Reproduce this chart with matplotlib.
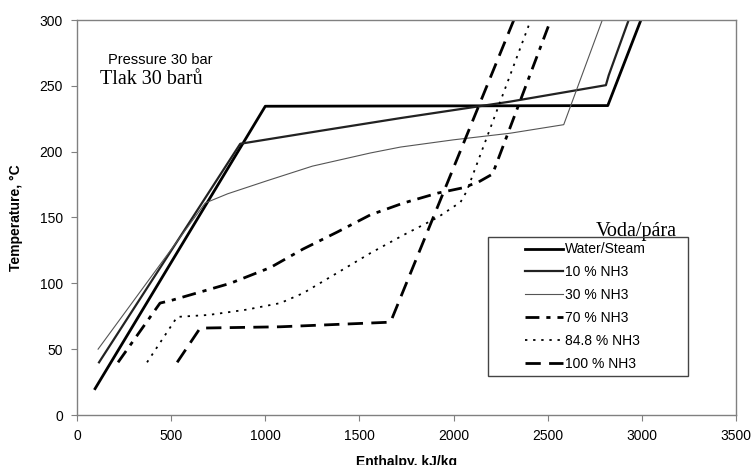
import numpy as np
import matplotlib
matplotlib.use("Agg")
import matplotlib.pyplot as plt
from matplotlib.patches import Rectangle

plt.rcParams['font.family'] = ['Liberation Sans', 'DejaVu Sans']

# enthalpy (kJ/kg) vs temperature (degC)
water_h = [96, 1000, 2819, 2995]
water_t = [20, 234.5, 235, 300]

nh3_10_h = [117, 867, 1300, 1718, 2300, 2809, 2824, 2930]
nh3_10_t = [40, 206, 216, 225.5, 238, 250.5, 258, 300]

nh3_30_h = [112, 681, 800, 1011, 1250, 1558, 1718, 2000, 2300, 2585, 2790]
nh3_30_t = [50, 161, 168, 178, 189, 199, 203.5, 209, 214, 220.5, 300]

nh3_70_h = [218, 441, 500, 814, 1027, 1200, 1383, 1558, 1734, 1915, 2048, 2133, 2207, 2516]
nh3_70_t = [40, 85, 87, 100, 112, 126, 139, 152, 161, 168.5, 172.5, 177, 183, 300]

nh3_848_h = [372, 532, 700, 900, 1080, 1202, 1383, 1559, 1734, 1915, 2037, 2070, 2410]
nh3_848_t = [40, 74.5, 76, 80, 85, 92.6, 108, 123, 136.7, 150, 161.7, 170, 300]

nh3_100_h = [532, 654, 1080, 1665, 2320]
nh3_100_t = [40, 66, 67, 70.5, 300]

labels = ["Water/Steam", "10 % NH3", "30 % NH3", "70 % NH3", "84.8 % NH3", "100 % NH3"]

fig = plt.figure(figsize=(7.52, 4.65), dpi=100)
ax = fig.add_axes([77/752, 1-415/465, (736-77)/752, (415-20)/465])

ax.plot(water_h, water_t, color="black", lw=2.0, label=labels[0])
ax.plot(nh3_10_h, nh3_10_t, color="#222222", lw=1.6, label=labels[1])
ax.plot(nh3_30_h, nh3_30_t, color="#555555", lw=0.8, label=labels[2])
ax.plot(nh3_70_h, nh3_70_t, color="black", lw=2.0, dashes=(5, 2.5, 1.5, 2.5), label=labels[3])
ax.plot(nh3_848_h, nh3_848_t, color="black", lw=1.3, dashes=(1.3, 3.2), label=labels[4])
ax.plot(nh3_100_h, nh3_100_t, color="black", lw=2.0, dashes=(5.5, 3), label=labels[5])

ax.set_xlim(0, 3500)
ax.set_ylim(0, 300)
ax.set_xticks(np.arange(0, 3501, 500))
ax.set_yticks(np.arange(0, 301, 50))
for s in ax.spines.values():
    s.set_color("#808080")
    s.set_linewidth(1.0)
ax.tick_params(direction="out", length=4, color="#808080", labelsize=10, pad=6)

ax.set_xlabel("Enthalpy, kJ/kg", fontsize=10, fontweight="bold", labelpad=9)
ax.set_ylabel("Temperature, °C", fontsize=10, fontweight="bold", labelpad=12)

ax.text(165, 270, "Pressure 30 bar", fontsize=10.5, ha="left", va="center")
ax.text(120, 255, "Tlak 30 barů", fontsize=14.5, family="Liberation Serif", ha="left", va="center")
ax.text(2968, 136, "Voda/pára", fontsize=14.5, family="Liberation Serif", ha="center", va="baseline")

leg = ax.legend(loc="upper left", bbox_to_anchor=(0.68, 0.437), frameon=False,
                fontsize=10, handlelength=2.7, handletextpad=0.2, labelspacing=0.64,
                borderpad=0, borderaxespad=0)
ax.add_patch(Rectangle((0.624, 0.099), 0.303, 0.352, transform=ax.transAxes,
                       fill=False, edgecolor="#444444", lw=1.0, zorder=4))

fig.savefig("out.png", dpi=100)
